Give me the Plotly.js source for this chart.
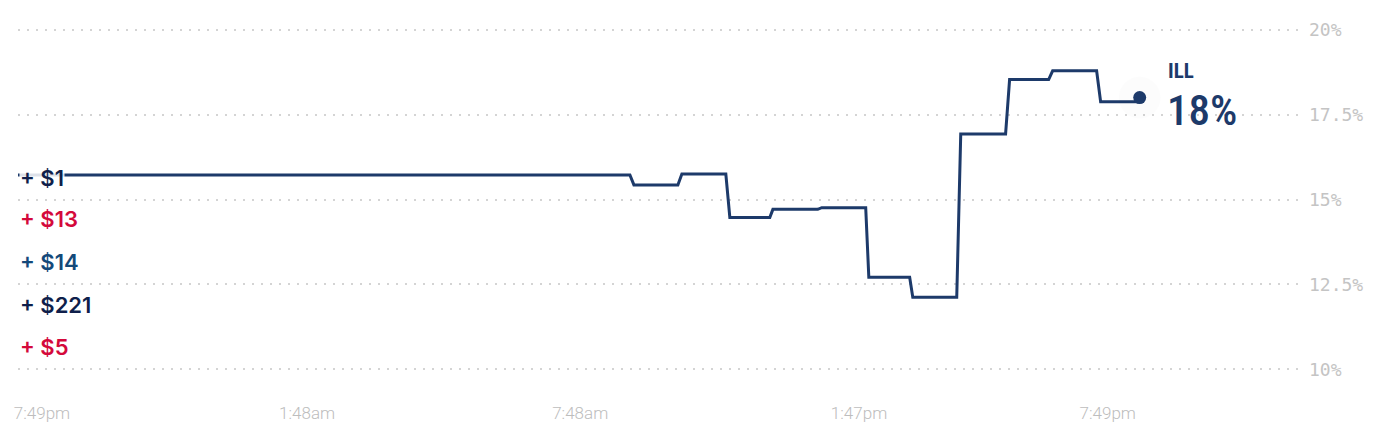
<!DOCTYPE html>
<html>
<head>
<meta charset="utf-8">
<script src="https://cdn.plot.ly/plotly-3.0.1.min.js"></script>
<style>
  html, body { margin: 0; padding: 0; background: #ffffff; }
  #chart { width: 1385px; height: 431px; }
</style>
</head>
<body>
<div id="chart"></div>
<script>
// Time in hours since the first 7:49pm tick; odds in percent
const times = [-0.54, 13.24, 13.33, 14.32, 14.41, 15.40, 15.49, 16.39, 16.46, 17.47, 17.56,
               18.55, 18.62, 19.54, 19.61, 20.60, 20.69, 21.70, 21.79, 22.67, 22.76, 23.75, 23.84, 24.72];
const odds  = [15.72, 15.72, 15.43, 15.43, 15.75, 15.75, 14.47, 14.47, 14.71, 14.71, 14.76,
               14.76, 12.71, 12.71, 12.12, 12.12, 16.93, 16.93, 18.53, 18.53, 18.79, 18.79, 17.88, 17.88];

const lastTime = 24.72;
const lastOdds = 18;
const seriesName = "ILL";

const tickTimes = [0, 5.97, 12.12, 18.4, 24];
const tickLabels = ["7:49pm", "1:48am", "7:48am", "1:47pm", "7:49pm"];
const yTicks = [10, 12.5, 15, 17.5, 20];
const yTickLabels = ["10%", "12.5%", "15%", "17.5%", "20%"];

const betLabels = ["+ $1", "+ $13", "+ $14", "+ $221", "+ $5"];
const betColors = ["#0f1f4b", "#d4093b", "#14497a", "#0f1f4b", "#d4093b"];

const lineColor = "#1d3a6a";

const traces = [
  {
    x: times, y: odds, type: "scatter", mode: "lines",
    line: { color: lineColor, width: 3, shape: "linear" },
    hoverinfo: "skip", showlegend: false
  },
  {
    x: [lastTime], y: [lastOdds], type: "scatter", mode: "markers",
    marker: { size: 42, color: "rgba(0,0,0,0.012)" },
    hoverinfo: "skip", showlegend: false
  },
  {
    x: [lastTime], y: [lastOdds], type: "scatter", mode: "markers",
    marker: { size: 13, color: lineColor },
    hoverinfo: "skip", showlegend: false
  }
];

const betY = [0.563, 0.443, 0.318, 0.192, 0.070];
const annotations = betLabels.map((t, i) => ({
  text: t, xref: "paper", yref: "paper", x: 0, y: betY[i],
  xanchor: "left", yanchor: "middle", xshift: 1, showarrow: false,
  font: { family: "Inter, Roboto, Arial, sans-serif", size: 22, color: betColors[i], weight: 600 },
  bgcolor: i === 0 ? "rgba(255,255,255,0.85)" : "rgba(0,0,0,0)",
  borderpad: 0
}));
annotations.push({
  text: seriesName, xref: "x", yref: "y", x: lastTime, y: lastOdds,
  xanchor: "left", yanchor: "middle", xshift: 26, yshift: 27, showarrow: false,
  font: { family: "'Roboto Condensed', 'Liberation Sans Narrow', Roboto, sans-serif", size: 21, color: lineColor, weight: 700 }
});
annotations.push({
  text: lastOdds + "%", xref: "x", yref: "y", x: lastTime, y: lastOdds,
  xanchor: "left", yanchor: "middle", xshift: 25, yshift: -12, showarrow: false,
  font: { family: "'Roboto Condensed', 'Liberation Sans Narrow', Roboto, sans-serif", size: 43, color: lineColor, weight: 500 }
});

const layout = {
  width: 1385, height: 431,
  margin: { l: 18, r: 85, t: 28, b: 60 },
  paper_bgcolor: "#ffffff", plot_bgcolor: "#ffffff",
  showlegend: false,
  xaxis: {
    range: [-0.54, 28.33],
    tickvals: tickTimes, ticktext: tickLabels,
    showgrid: false, zeroline: false, showline: false, ticks: "",
    ticklabelstandoff: 30,
    tickfont: { family: "Roboto, sans-serif", size: 17, color: "#bdbdbd", weight: 300 },
    fixedrange: true
  },
  yaxis: {
    side: "right",
    range: [9.95, 20.05],
    tickvals: yTicks, ticktext: yTickLabels,
    showgrid: true, gridcolor: "#d4d4d4", gridwidth: 2, griddash: "2px,7px",
    zeroline: false, showline: false, ticks: "",
    ticklabelstandoff: 8,
    tickfont: { family: "'DejaVu Sans Mono', monospace", size: 18, color: "#c4c4c4" },
    fixedrange: true
  },
  annotations: annotations
};

Plotly.newPlot("chart", traces, layout, { displayModeBar: false, staticPlot: true });
</script>
</body>
</html>
